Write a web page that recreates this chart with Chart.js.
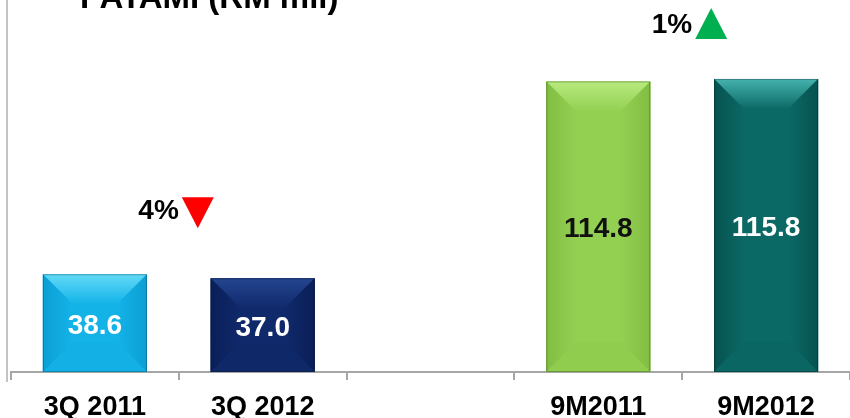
<!DOCTYPE html>
<html>
<head>
<meta charset="utf-8">
<script src="https://cdn.jsdelivr.net/npm/chart.js@4"></script>
<style>
  html, body { margin: 0; padding: 0; background: #fff; }
  #wrap { width: 850px; height: 418px; position: relative; }
</style>
</head>
<body>
<div id="wrap"><canvas id="myChart"></canvas></div>
<script>
// PATAMI, RM million
var categories = ['3Q 2011', '3Q 2012', '', '9M2011', '9M2012'];
var patami = [38.6, 37.0, null, 114.8, 115.8];

// growth markers: bar pair, text, direction
var changePairs = [[0, 1], [3, 4]];
var changeText = ['4%', '1%'];
var changeUp = [false, true];

var titleText = 'PATAMI (RM mil)';

// per bar: base, top face, side, bottom face
var barStyles = [
    { base: '#13b3e8', top: '#62d9f8', side: '#0c9fd4', bottom: '#12b0e5', label: '#ffffff' },
    { base: '#10296b', top: '#24458f', side: '#0a1f58', bottom: '#0f2868', label: '#ffffff' },
    null,
    { base: '#93d052', top: '#b8ea7e', side: '#80bd42', bottom: '#90cd4f', label: '#111111' },
    { base: '#0b6965', top: '#45b2ae', side: '#06524f', bottom: '#0a6662', label: '#ffffff' }
];

var bevelPlugin = {
    id: 'bevel',
    afterDatasetsDraw: function (chart) {
        var ctx = chart.ctx;
        var meta = chart.getDatasetMeta(0);
        meta.data.forEach(function (bar, i) {
            var st = barStyles[i];
            if (!st || patami[i] == null) return;
            var p = bar.getProps(['x', 'y', 'base', 'width'], true);
            var l = p.x - p.width / 2, r = p.x + p.width / 2, t = p.y, b = p.base;
            var d = Math.min(30, (b - t) / 2 - 2);
            ctx.save();
            ctx.fillStyle = st.base;
            ctx.fillRect(l, t, r - l, b - t);
            // top face
            var g = ctx.createLinearGradient(0, t, 0, t + d);
            g.addColorStop(0, st.top);
            g.addColorStop(1, st.base);
            ctx.fillStyle = g;
            poly(ctx, [[l, t], [r, t], [r - d, t + d], [l + d, t + d]]);
            // left side
            g = ctx.createLinearGradient(l, 0, l + d, 0);
            g.addColorStop(0, st.side);
            g.addColorStop(1, st.base);
            ctx.fillStyle = g;
            poly(ctx, [[l, t], [l + d, t + d], [l + d, b - d], [l, b]]);
            // right side
            g = ctx.createLinearGradient(r, 0, r - d, 0);
            g.addColorStop(0, st.side);
            g.addColorStop(1, st.base);
            ctx.fillStyle = g;
            poly(ctx, [[r, t], [r - d, t + d], [r - d, b - d], [r, b]]);
            // bottom face
            ctx.fillStyle = st.bottom;
            poly(ctx, [[l, b], [l + d, b - d], [r - d, b - d], [r, b]]);
            ctx.strokeStyle = 'rgba(0,0,0,0.25)';
            ctx.lineWidth = 1;
            ctx.strokeRect(l + 0.5, t + 0.5, r - l - 1, b - t - 1);
            // value
            ctx.fillStyle = st.label;
            ctx.font = 'bold 28px "Liberation Sans", Arial, sans-serif';
            ctx.textAlign = 'center';
            ctx.textBaseline = 'middle';
            ctx.fillText(patami[i].toFixed(1), p.x, (t + b) / 2 + 3);
            ctx.restore();
        });
    },
    afterDraw: function (chart) {
        var ctx = chart.ctx;
        var meta = chart.getDatasetMeta(0);
        ctx.save();
        // slide border line on the left
        ctx.strokeStyle = '#c4c4c4';
        ctx.lineWidth = 2;
        ctx.beginPath();
        ctx.moveTo(7, 0);
        ctx.lineTo(7, 382);
        ctx.stroke();
        // title, running off the top
        ctx.fillStyle = '#000';
        ctx.font = 'bold 33px "Liberation Sans", Arial, sans-serif';
        ctx.textAlign = 'left';
        ctx.textBaseline = 'alphabetic';
        ctx.fillText(titleText, 80, 8);
        // growth markers
        changePairs.forEach(function (pair, k) {
            var a = meta.data[pair[0]], c = meta.data[pair[1]];
            var mx = (a.x + c.x) / 2;
            var topY = Math.min(a.y, c.y);
            var cy = changeUp[k] ? topY - 54 : topY - 63;
            ctx.fillStyle = '#000';
            ctx.font = 'bold 28px "Liberation Sans", Arial, sans-serif';
            ctx.textAlign = 'right';
            ctx.textBaseline = 'middle';
            ctx.fillText(changeText[k], mx + (changeUp[k] ? 10 : 0), cy);
            var tx = mx + (changeUp[k] ? 13 : 3);
            if (changeUp[k]) {
                ctx.fillStyle = '#00b050';
                poly(ctx, [[tx, cy + 14], [tx + 32, cy + 14], [tx + 16, cy - 17]]);
            } else {
                ctx.fillStyle = '#ff0000';
                poly(ctx, [[tx, cy - 14], [tx + 32, cy - 14], [tx + 16, cy + 17]]);
            }
        });
        ctx.restore();
    }
};

function poly(ctx, pts) {
    ctx.beginPath();
    ctx.moveTo(pts[0][0], pts[0][1]);
    for (var i = 1; i < pts.length; i++) ctx.lineTo(pts[i][0], pts[i][1]);
    ctx.closePath();
    ctx.fill();
}

var ctx = document.getElementById('myChart').getContext('2d');
var myChart = new Chart(ctx, {
    type: 'bar',
    data: {
        labels: categories,
        datasets: [{
            label: 'PATAMI',
            data: patami,
            backgroundColor: barStyles.map(function (s) { return s ? s.base : 'transparent'; }),
            borderWidth: 0,
            barPercentage: 0.62,
            categoryPercentage: 1
        }]
    },
    options: {
        responsive: true,
        maintainAspectRatio: false,
        animation: false,
        layout: { padding: { left: 11, right: 0, top: 0, bottom: -17 } },
        plugins: {
            legend: { display: false },
            title: { display: false },
            tooltip: { enabled: false }
        },
        scales: {
            x: {
                offset: true,
                border: { display: true, color: '#a6a6a6', width: 2 },
                grid: {
                    display: true,
                    drawOnChartArea: false,
                    drawTicks: true,
                    tickLength: 8,
                    color: '#a6a6a6',
                    lineWidth: 2
                },
                ticks: {
                    color: '#000',
                    padding: 14,
                    font: { family: '"Liberation Sans", Arial, sans-serif', size: 27, weight: 'bold', lineHeight: 1 }
                }
            },
            y: {
                display: false,
                min: 0,
                max: 147
            }
        }
    },
    plugins: [bevelPlugin]
});
</script>
</body>
</html>
